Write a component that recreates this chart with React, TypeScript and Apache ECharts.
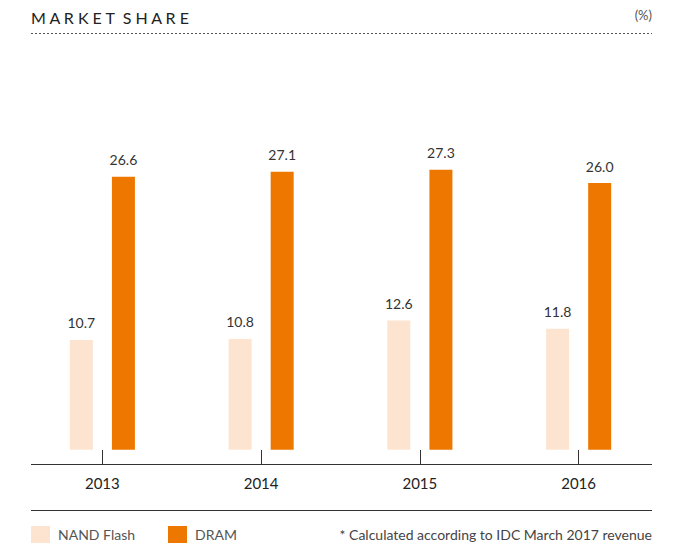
import React, { useEffect, useRef } from "react";
import * as echarts from "echarts";

const years = ["2013", "2014", "2015", "2016"];
const nandFlash = [10.7, 10.8, 12.6, 11.8];
const dram = [26.6, 27.1, 27.3, 26.0];
const seriesNames = ["NAND Flash", "DRAM"];
const titleText = "M A R K E T  S H A R E";
const unitText = "(%)";
const noteText = "* Calculated according to IDC March 2017 revenue";

const FONT = "Lato, 'Open Sans', sans-serif";

export default function App() {
  const ref = useRef<HTMLDivElement>(null);
  useEffect(() => {
    if (!ref.current) return;
    const chart = echarts.init(ref.current, undefined, { renderer: "svg" });
    chart.setOption({
      animation: false,
      textStyle: { fontFamily: FONT },
      grid: { left: 23, right: 31, top: 142, bottom: 79, containLabel: false },
      xAxis: {
        type: "category",
        data: years,
        axisLine: { show: false, onZero: false },
        axisTick: {
          show: true,
          inside: true,
          length: 14,
          alignWithLabel: true,
          lineStyle: { color: "#333", width: 1 },
        },
        axisLabel: { color: "#222", fontSize: 15, margin: 11, fontFamily: FONT },
      },
      yAxis: {
        type: "value",
        min: -1.4,
        max: 30,
        show: false,
        splitLine: { show: false },
      },
      legend: {
        left: 31,
        top: 526,
        padding: 0,
        itemWidth: 19,
        itemHeight: 17,
        itemGap: 33,
        icon: "rect",
        data: seriesNames,
        textStyle: { color: "#555", fontSize: 14, fontFamily: FONT, padding: [0, 0, 0, 3] },
      },
      series: [
        {
          name: seriesNames[0],
          type: "bar",
          data: nandFlash,
          barWidth: 23,
          barGap: "83%",
          itemStyle: { color: "#FCE4D1" },
          label: {
            show: true,
            position: "top",
            distance: 10,
            color: "#333",
            fontSize: 14,
            fontFamily: FONT,
            formatter: (p: any) => p.value.toFixed(1),
          },
        },
        {
          name: seriesNames[1],
          type: "bar",
          data: dram,
          barWidth: 23,
          itemStyle: { color: "#EE7700" },
          label: {
            show: true,
            position: "top",
            distance: 10,
            color: "#333",
            fontSize: 14,
            fontFamily: FONT,
            formatter: (p: any) => p.value.toFixed(1),
          },
        },
      ],
      graphic: [
        {
          type: "text",
          left: 31,
          top: 9,
          style: { text: titleText, fontSize: 16, fill: "#222", fontFamily: FONT },
        },
        {
          type: "text",
          right: 37,
          top: 8,
          style: { text: unitText, fontSize: 13, fill: "#555", fontFamily: FONT },
        },
        {
          type: "line",
          shape: { x1: 31, y1: 33.5, x2: 652, y2: 33.5 },
          style: { stroke: "#555", lineWidth: 1, lineDash: [2, 2] },
        },
        {
          type: "line",
          shape: { x1: 31, y1: 464.5, x2: 652, y2: 464.5 },
          style: { stroke: "#333", lineWidth: 1 },
        },
        {
          type: "line",
          shape: { x1: 31, y1: 510.5, x2: 652, y2: 510.5 },
          style: { stroke: "#333", lineWidth: 1 },
        },
        {
          type: "text",
          right: 37,
          top: 527,
          style: { text: noteText, fontSize: 14, fill: "#444", fontFamily: FONT },
        },
      ],
    });
    return () => chart.dispose();
  }, []);
  return (
    <div
      ref={ref}
      style={{ position: "fixed", left: 0, top: 0, width: 689, height: 543, background: "#fff" }}
    />
  );
}
